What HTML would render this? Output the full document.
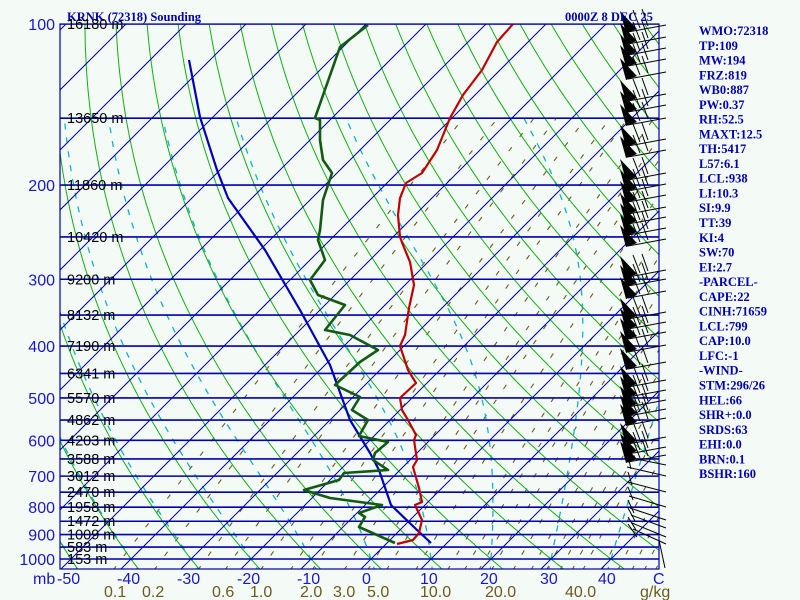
<!DOCTYPE html>
<html><head><meta charset="utf-8">
<style>
html,body{margin:0;padding:0;background:#f4faf6;}
svg{display:block;}
</style></head>
<body>
<svg id="s" width="800" height="600" xmlns="http://www.w3.org/2000/svg" style="background:#f4faf6">
<defs><clipPath id="cp"><rect x="60" y="24" width="599" height="545"/></clipPath></defs>
<g id="grid" clip-path="url(#cp)"></g>
<g id="data" clip-path="url(#cp)"></g>
<g id="barbs"></g>
<g id="txt"></g>
</svg>
<script>
var NS="http://www.w3.org/2000/svg";
function Y(p){return 24+535*Math.log10(p/100);}
function X(T,p){return 372+6.0*T+(558-Y(p));}
function el(parent,tag,attrs,text){var e=document.createElementNS(NS,tag);for(var k in attrs)e.setAttribute(k,attrs[k]);if(text!==undefined)e.textContent=text;document.getElementById(parent).appendChild(e);return e;}
function poly(parent,pts,attrs){attrs.points=pts.map(function(q){return q[0].toFixed(1)+","+q[1].toFixed(1)}).join(" ");attrs.fill="none";return el(parent,"polyline",attrs);}
var ps=[];for(var p=1050;p>=100;p-=5)ps.push(p);
// mixing ratio lines
var ws=[0.1,0.2,0.4,0.6,1,1.5,2,3,4,5,7,10,12,14,16,20,24,28,32,36,40,48,56,64,72,80];
ws.forEach(function(w){var pts=[];ps.forEach(function(p){if(p<150)return;var e=w*p/(622+w);var l=Math.log(e/6.112);var T=243.5*l/(17.67-l);pts.push([X(T,p),Y(p)]);});
poly("grid",pts,{stroke:"#6b5a1e","stroke-width":"1.1","stroke-dasharray":"5 13"});});
// moist adiabats
function es(T){return 6.112*Math.exp(17.67*T/(T+243.5));}
for(var tw=-70;tw<=40;tw+=10){var T;
 var up=[],dn=[];T=tw;for(var p=1000;p>=150;p-=2){up.push([X(T,p),Y(p)]);var Tk=T+273.15,rs=0.622*es(T)/(p-es(T));var g=(287*Tk+2.5e6*rs)/(1005+(2.5e6*2.5e6*rs*0.622)/(287*Tk*Tk))/p;T-=g*2;}
 T=tw;for(var p=1000;p<=1060;p+=2){dn.push([X(T,p),Y(p)]);var Tk=T+273.15,rs=0.622*es(T)/(p-es(T));var g=(287*Tk+2.5e6*rs)/(1005+(2.5e6*2.5e6*rs*0.622)/(287*Tk*Tk))/p;T+=g*2;}
 poly("grid",dn.reverse().concat(up),{stroke:"#10b0c8","stroke-width":"1.3","stroke-dasharray":"6 8"});}
// dry adiabats
for(var th=-60;th<=200;th+=10){var pts=[];ps.forEach(function(p){var T=(th+273.15)*Math.pow(p/1000,0.2857)-273.15;pts.push([X(T,p),Y(p)]);});poly("grid",pts,{stroke:"#10b010","stroke-width":"1"});}
// isotherms
for(var t=-200;t<=60;t+=10){el("grid","line",{x1:X(t,1050),y1:Y(1050),x2:X(t,100),y2:Y(100),stroke:"#0000b0","stroke-width":"1"});}
// isobars
for(var p=100;p<=1000;p+=50){var y=Y(p);el("grid","line",{x1:60,y1:y,x2:659,y2:y,stroke:"#0000b0","stroke-width":"1.6"});}
// border
el("barbs","rect",{x:60,y:24,width:599,height:545,fill:"none",stroke:"#0000b0","stroke-width":"1.2"});
// data
var temp=[[513,24],[497,42],[482,70],[463,95],[450,118],[437,150],[422,173],[406,183],[400,198],[398,215],[400,237],[403,245],[410,262],[414,285],[409,308],[405,335],[400,346],[408,370],[416,383],[400,398],[402,410],[408,420],[416,435],[414,440],[417,460],[413,467],[419,488],[422,502],[415,505],[422,520],[419,533],[413,540],[397,544]];
var dew=[[368,25],[340,47],[315,118],[320,120],[320,140],[323,160],[332,173],[323,200],[320,230],[318,240],[325,260],[310,280],[318,295],[345,305],[325,330],[350,335],[378,350],[360,362],[335,385],[360,397],[352,410],[368,420],[359,436],[388,442],[375,453],[373,460],[388,470],[344,473],[339,480],[304,490],[330,498],[382,505],[359,513],[365,517],[359,527],[395,543]];
var parc=[[189,60],[200,117],[217,170],[228,198],[265,250],[300,310],[330,365],[350,420],[370,453],[379,470],[391,505],[417,530],[431,543]];
poly("data",parc,{stroke:"#0000b8","stroke-width":"2.2","stroke-linejoin":"round"});
poly("data",temp,{stroke:"#c00000","stroke-width":"2.2","stroke-linejoin":"round"});
poly("data",dew,{stroke:"#125a12","stroke-width":"2.6","stroke-linejoin":"round"});
// barbs
var up=[25,37,48,59,72,94,105,118,139,150,173,184,195,207,217,228,239,270,279,291,312,322,332,345,362,380,390,400,409,418,437,447,455];
var lo=[465,476,492,507,520,528,537,544];
up.forEach(function(y,i){el("barbs","line",{x1:666,y1:y,x2:628,y2:y+7,stroke:"#000","stroke-width":"1"});
 el("barbs","polygon",{points:(626)+","+(y+8)+" "+(620)+","+(y-14)+" "+(637)+","+(y+4),fill:"#000"});
 el("barbs","line",{x1:640,y1:y+3,x2:633,y2:y-15,stroke:"#000","stroke-width":"1"});
 el("barbs","line",{x1:648,y1:y+1,x2:642,y2:y-16,stroke:"#000","stroke-width":"1"});});
lo.forEach(function(y,i){el("barbs","line",{x1:666,y1:y,x2:626+i,y2:y-8-i,stroke:"#000","stroke-width":"1"});
 el("barbs","line",{x1:630+i,y1:y-7,x2:628,y2:y-20,stroke:"#000","stroke-width":"1"});});
el("barbs","line",{x1:659,y1:540,x2:665,y2:568,stroke:"#000","stroke-width":"1"});
// text
var F="'Liberation Sans',sans-serif",S="'Liberation Serif',serif";
el("txt","text",{x:67,y:21,"font-family":S,"font-size":"12.5","font-weight":"bold",fill:"#0000b0"},"KRNK (72318) Sounding");
el("txt","text",{x:565,y:21,"font-family":S,"font-size":"12.5","font-weight":"bold",fill:"#0000b0"},"0000Z  8 DEC 25");
var plab=[[100,"100"],[200,"200"],[300,"300"],[400,"400"],[500,"500"],[600,"600"],[700,"700"],[800,"800"],[900,"900"],[1000,"1000"]];
plab.forEach(function(a){el("txt","text",{x:55,y:Y(a[0])+6,"text-anchor":"end","font-family":F,"font-size":"16",fill:"#1818c8"},a[1]);});
var hl=[[100,"16180 m"],[150,"13650 m"],[200,"11860 m"],[250,"10420 m"],[300,"9200 m"],[350,"8132 m"],[400,"7190 m"],[450,"6341 m"],[500,"5570 m"],[550,"4862 m"],[600,"4203 m"],[650,"3588 m"],[700,"3012 m"],[750,"2470 m"],[800,"1958 m"],[850,"1472 m"],[900,"1009 m"],[950,"583 m"],[1000,"153 m"]];
hl.forEach(function(a){el("txt","text",{x:67,y:Y(a[0])+5,"font-family":F,"font-size":"14.5",fill:"#000"},a[1]);});
var tl=[["mb",33],["-50",57],["-40",117],["-30",177],["-20",237],["-10",297],["0",362],["10",420],["20",480],["30",540],["40",598],["C",653]];
tl.forEach(function(a){el("txt","text",{x:a[1],y:584,"font-family":F,"font-size":"16",fill:"#1818c8"},a[0]);});
var ml=[["0.1",104],["0.2",142],["0.6",212],["1.0",250],["2.0",300],["3.0",333],["5.0",367],["10.0",420],["20.0",485],["40.0",565],["g/kg",640]];
ml.forEach(function(a){el("txt","text",{x:a[1],y:597,"font-family":F,"font-size":"16",fill:"#6b5a1e"},a[0]);});
var rp=["WMO:72318","TP:109","MW:194","FRZ:819","WB0:887","PW:0.37","RH:52.5","MAXT:12.5","TH:5417","L57:6.1","LCL:938","LI:10.3","SI:9.9","TT:39","KI:4","SW:70","EI:2.7","-PARCEL-","CAPE:22","CINH:71659","LCL:799","CAP:10.0","LFC:-1","-WIND-","STM:296/26","HEL:66","SHR+:0.0","SRDS:63","EHI:0.0","BRN:0.1","BSHR:160"];
rp.forEach(function(s,i){el("txt","text",{x:699,y:35+i*14.77,"font-family":S,"font-size":"12.5","font-weight":"bold",fill:"#0000b0"},s);});
</script>
</body></html>
